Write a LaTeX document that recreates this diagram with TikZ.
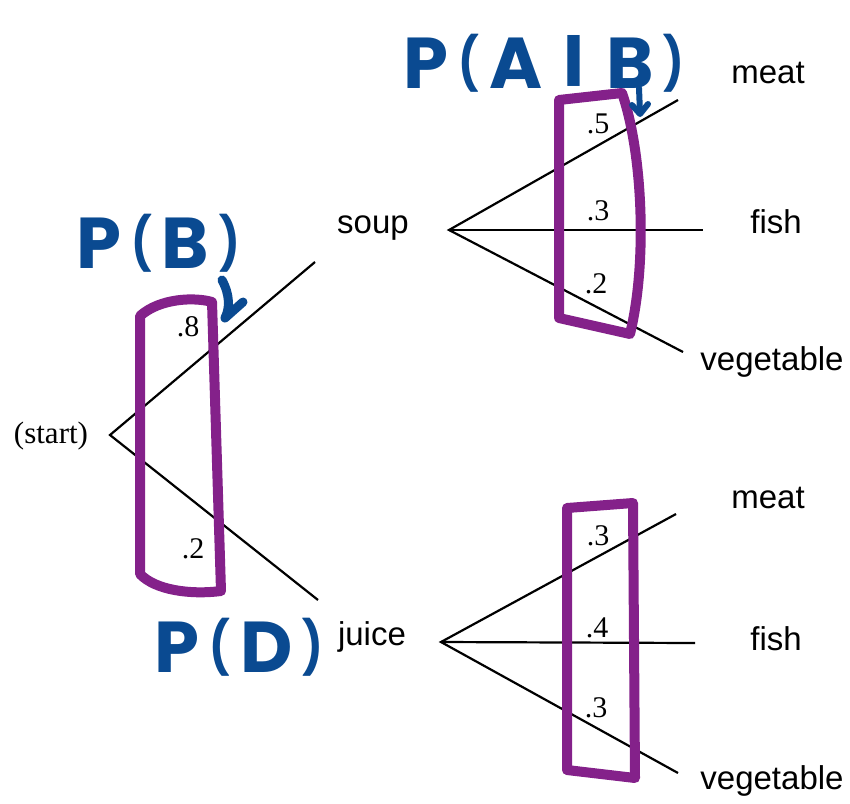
\documentclass[tikz,border=0pt]{standalone}
\usepackage{graphicx}
\usepackage{fontspec}
\setmainfont{Liberation Serif}
\newfontfamily\labelfont{Liberation Sans}
\newfontfamily\handfont{Poppins}
\definecolor{ringpurple}{RGB}{132,33,138}
\definecolor{inkblue}{RGB}{10,74,145}
% slimmer, spaced brackets and bar for the hand-lettered notes
\newcommand\hb[1]{\kern0.14em\raisebox{0.1em}{\scalebox{0.6}[0.72]{#1}}\kern0.14em}
\newcommand\handbar{\kern0.3em\raisebox{0.12em}{\scalebox{1}[0.75]{|}}\kern0.3em}
\begin{document}
\begin{tikzpicture}[x=1pt,y=-1pt,
  branch/.style={line width=2.2pt,black},
  ring/.style={line width=10pt,ringpurple,line join=round,line cap=round},
  pen/.style={line width=9pt,inkblue,line cap=round,line join=round},
  outcome/.style={font=\labelfont\fontsize{33}{36}\selectfont,inner sep=0pt},
  prob/.style={font=\fontsize{30}{34}\selectfont,inner sep=0pt},
  note/.style={font=\handfont\bfseries\fontsize{72}{80}\selectfont,text=inkblue,inner sep=0pt}]
\useasboundingbox (0,0) rectangle (850,803);

% tree points
\coordinate (root) at (110,435);
\coordinate (soupend) at (315,262);
\coordinate (juiceend) at (318,600);
\coordinate (sv) at (449,230);
\coordinate (jv) at (441,642);
\coordinate (sm) at (678,100);
\coordinate (sf) at (703,230);
\coordinate (sg) at (683,352);
\coordinate (jm) at (676,514);
\coordinate (jf) at (695,643);
\coordinate (jg) at (678,773);

% labels
\node[font=\fontsize{31}{34}\selectfont,inner sep=0pt] (start) at (51,436) {(start)};
\node[outcome] (soup) at (373,228) {soup};
\node[outcome] (juice) at (372,637) {juice};
\node[outcome] (m1) at (768,73) {meat};
\node[outcome] (f1) at (776,222) {fish};
\node[outcome] (v1) at (772,362) {vegetable};
\node[outcome] (m2) at (768,498) {meat};
\node[outcome] (f2) at (776,639) {fish};
\node[outcome] (v2) at (772,781) {vegetable};

% branches
\draw[branch] (soupend) -- (root) -- (juiceend);
\draw[branch] (sm) -- (sv) -- (sg);
\draw[branch] (sv) -- (sf);
\draw[branch] (jm) -- (jv) -- (jg);
\draw[branch] (jv) -- (jf);

% probabilities
\node[prob] (p8) at (188,327) {.8};
\node[prob] (p2) at (193,549) {.2};
\node[prob] (q5) at (598,124) {.5};
\node[prob] (q3) at (598,211) {.3};
\node[prob] (q2) at (596,284) {.2};
\node[prob] (r3) at (598,536) {.3};
\node[prob] (r4) at (597,628) {.4};
\node[prob] (r3b) at (596,708) {.3};

% highlighted groups
\draw[ring] (140,316) .. controls (160,298) and (195,297) .. (212,302)
  -- (221,591) .. controls (190,595) and (155,590) .. (140,574) -- cycle;
\draw[ring] (559,100) -- (622,93) .. controls (642,150) and (648,260) .. (630,334)
  -- (559,318) -- cycle;
\draw[ring] (567,508) -- (633,503) -- (635,778) -- (567,770) -- cycle;

% annotations
\node[note] (pb) at (163,243) {P\hb{(}B\hb{)}};
\node[note] (pab) at (549,63) {P\hb{(}A\handbar B\hb{)}};
\node[note] (pd) at (244,647) {P\hb{(}D\hb{)}};
\draw[pen] (222,280) .. controls (230,295) and (230,308) .. (225,318);
\draw[pen] (243,302) -- (225,318);
\draw[pen,line width=6pt] (639,88) -- (640,113);
\draw[pen,line width=6pt] (632,105) -- (640,114) -- (648,104);
\end{tikzpicture}
\end{document}
